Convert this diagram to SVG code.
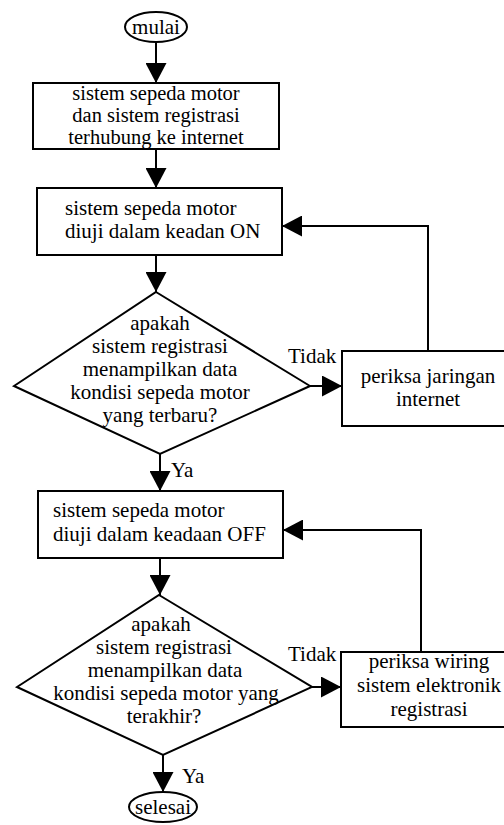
<svg xmlns="http://www.w3.org/2000/svg" width="504" height="825" viewBox="0 0 504 825">
  <style>
    .shape { fill: #ffffff; stroke: #000000; stroke-width: 2; }
    .line { fill: none; stroke: #000000; stroke-width: 2; marker-end: url(#arrow); }
    text { font-family: 'Liberation Serif', 'DejaVu Serif', serif; font-size: 21px; fill: #000000; }
    .c { text-anchor: middle; }
    .tight { font-size: 20.5px; }
  </style>
  <defs>
    <marker id="arrow" markerUnits="userSpaceOnUse" markerWidth="20" markerHeight="21" refX="20" refY="10.5" orient="auto">
      <path d="M0,0 L20,10.5 L0,21 Z" fill="#000000"/>
    </marker>
  </defs>

  <rect width="504" height="825" fill="#ffffff"/>

  <g font-family="Liberation Serif, DejaVu Serif, serif">
  <!-- connectors -->
  <g id="connectors">
    <path class="line" d="M156,42 V83"/>
    <path class="line" d="M156,149 V188"/>
    <path class="line" d="M156,255 V292"/>
    <path class="line" d="M310,386 H342"/>
    <path class="line" d="M428,351 V226 H282"/>
    <path class="line" d="M160,454 V491"/>
    <path class="line" d="M160,558 V595"/>
    <path class="line" d="M312,687 H341"/>
    <path class="line" d="M421,652 V530 H283"/>
    <path class="line" d="M163,755 V792"/>
    <text x="288" y="363">Tidak</text>
    <text x="171" y="477">Ya</text>
    <text x="288" y="661">Tidak</text>
    <text x="182" y="783">Ya</text>
  </g>

  <!-- start -->
  <g id="start">
    <ellipse class="shape" cx="156" cy="27" rx="31" ry="15"/>
    <text class="c" x="156" y="34">mulai</text>
  </g>

  <!-- connect systems -->
  <g id="connect">
    <rect class="shape" x="33" y="83" width="246" height="66"/>
    <text class="c tight" x="156" y="100">sistem sepeda motor</text>
    <text class="c tight" x="156" y="122">dan sistem registrasi</text>
    <text class="c tight" x="156" y="144">terhubung ke internet</text>
  </g>

  <!-- test ON -->
  <g id="test-on">
    <rect class="shape" x="37" y="188" width="245" height="67"/>
    <text x="65" y="215">sistem sepeda motor</text>
    <text x="65" y="238">diuji dalam keadan ON</text>
  </g>

  <!-- decision: latest data -->
  <g id="check-latest">
    <polygon class="shape" points="156,292 310,386 160,454 14,386"/>
    <text class="c" x="160" y="330">apakah</text>
    <text class="c" x="160" y="353">sistem registrasi</text>
    <text class="c" x="160" y="376">menampilkan data</text>
    <text class="c" x="160" y="399">kondisi sepeda motor</text>
    <text class="c" x="160" y="422">yang terbaru?</text>
  </g>

  <!-- check network -->
  <g id="check-network">
    <rect class="shape" x="342" y="351" width="172" height="75"/>
    <text class="c" x="428" y="383">periksa jaringan</text>
    <text class="c" x="428" y="406">internet</text>
  </g>

  <!-- test OFF -->
  <g id="test-off">
    <rect class="shape" x="38" y="491" width="245" height="67"/>
    <text x="53" y="517">sistem sepeda motor</text>
    <text x="53" y="541">diuji dalam keadaan OFF</text>
  </g>

  <!-- decision: last data -->
  <g id="check-last">
    <polygon class="shape" points="159,595 312,687 163,755 17,687"/>
    <text class="c" x="161" y="631">apakah</text>
    <text class="c" x="164" y="654">sistem registrasi</text>
    <text class="c" x="165" y="677">menampilkan data</text>
    <text class="c" x="166" y="700">kondisi sepeda motor yang</text>
    <text class="c" x="164" y="723">terakhir?</text>
  </g>

  <!-- check wiring -->
  <g id="check-wiring">
    <rect class="shape" x="341" y="652" width="176" height="75"/>
    <text class="c" x="429" y="668">periksa wiring</text>
    <text class="c" x="429" y="692">sistem elektronik</text>
    <text class="c" x="429" y="716">registrasi</text>
  </g>

  <!-- end -->
  <g id="end">
    <ellipse class="shape" cx="163" cy="807" rx="34" ry="15"/>
    <text class="c" x="163" y="814">selesai</text>
  </g>
  </g>
</svg>
